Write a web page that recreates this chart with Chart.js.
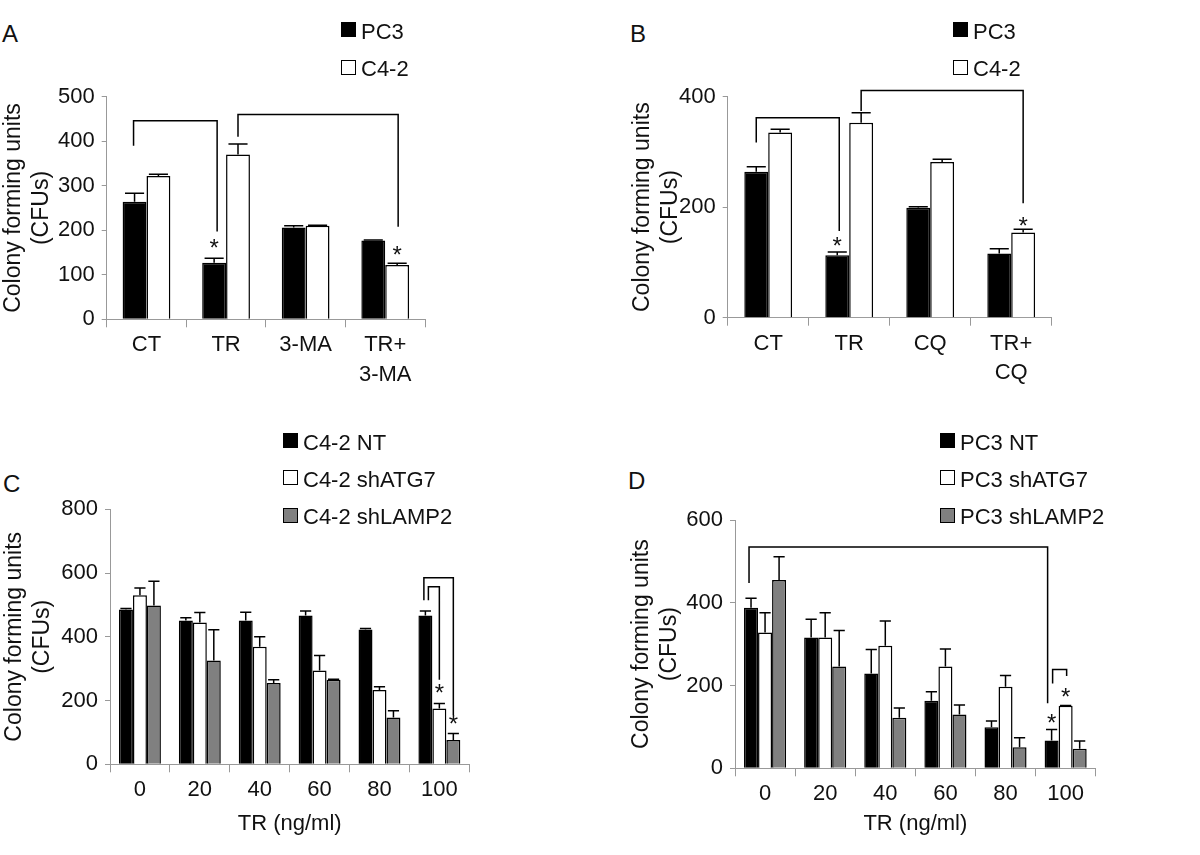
<!DOCTYPE html>
<html>
<head>
<meta charset="utf-8">
<script src="https://cdn.jsdelivr.net/npm/chart.js@4.4.1/dist/chart.umd.min.js"></script>
<style>
  body { margin:0; background:#fff; width:1200px; height:855px; position:relative; overflow:hidden; font-family:'Liberation Sans', Arial, sans-serif; color:#111; }
  canvas { position:absolute; }
  .tag { position:absolute; font-size:24px; line-height:1; }
  .box { position:absolute; width:15px; height:15px; box-sizing:border-box; border:1.5px solid #000; }
  .lab { position:absolute; font-size:22px; line-height:1; white-space:nowrap; }
</style>
</head>
<body>
<div class="tag" style="left:2px;top:22px">A</div>
<div class="tag" style="left:630px;top:22px">B</div>
<div class="tag" style="left:3px;top:472px">C</div>
<div class="tag" style="left:628px;top:469px">D</div>
<canvas id="cA"></canvas>
<canvas id="cB"></canvas>
<canvas id="cC"></canvas>
<canvas id="cD"></canvas>
<script>
const FONT = "'Liberation Sans', Arial, sans-serif";
const INK  = '#111';
const AXIS = '#999';

// panel A
const catsA   = ['CT', 'TR', '3-MA', ['TR+', '3-MA']];
const pc3A    = [264, 127, 206, 177];
const pc3AErr = [19, 10, 4, 1];
const c42A    = [322, 370, 210, 122];
const c42AErr = [4, 24, 1, 4];

// panel B
const catsB   = ['CT', 'TR', 'CQ', ['TR+', 'CQ']];
const pc3B    = [264, 113, 199, 116];
const pc3BErr = [9, 6, 2, 9];
const c42B    = [335, 353, 282, 154];
const c42BErr = [6, 18, 5, 6];

// panels C and D
const doses    = ['0', '20', '40', '60', '80', '100'];
const ntC      = [486, 451, 451, 467, 423, 467];
const ntCErr   = [3, 9, 26, 14, 3, 14];
const atg7C    = [530, 445, 369, 294, 233, 175];
const atg7CErr = [23, 31, 31, 47, 10, 16];
const lampC    = [498, 326, 255, 265, 147, 76];
const lampCErr = [76, 96, 10, 2, 21, 21];

const ntD      = [388, 316, 229, 163, 99, 67];
const ntDErr   = [23, 44, 58, 22, 15, 27];
const atg7D    = [328, 316, 296, 246, 197, 151];
const atg7DErr = [48, 60, 60, 42, 27, 1];
const lampD    = [455, 246, 122, 130, 51, 47];
const lampDErr = [56, 87, 24, 23, 23, 19];

const BLACK = '#000', WHITE = '#fff', GREY = '#808080';

function bar(label, data, err, fill) {
  return { label, data, err, backgroundColor: fill, borderColor: '#000', borderWidth: 1.5, barPercentage: 1 };
}

// error bars, brackets and stars
const marks = {
  id: 'marks',
  afterDatasetsDraw(chart, args, o) {
    const ctx = chart.ctx, y = chart.scales.y;
    const px = (d, i, dx) => chart.getDatasetMeta(d).data[i].x + (dx || 0);
    ctx.save();
    ctx.strokeStyle = '#000';
    ctx.lineWidth = 1.5;
    chart.data.datasets.forEach((ds, d) => {
      chart.getDatasetMeta(d).data.forEach((b, i) => {
        const e = ds.err[i];
        if (!e) return;
        const top = y.getPixelForValue(ds.data[i] + e), w = b.width * 0.4;
        ctx.beginPath();
        ctx.moveTo(b.x, b.y); ctx.lineTo(b.x, top);
        ctx.moveTo(b.x - w, top); ctx.lineTo(b.x + w, top);
        ctx.stroke();
      });
    });
    (o.brackets || []).forEach(k => {
      const xa = px(k.a[0], k.a[1], k.a[2]), xb = px(k.b[0], k.b[1], k.b[2]);
      const yt = y.getPixelForValue(k.top);
      ctx.beginPath();
      ctx.moveTo(xa, y.getPixelForValue(k.ya));
      ctx.lineTo(xa, yt); ctx.lineTo(xb, yt);
      ctx.lineTo(xb, y.getPixelForValue(k.yb));
      ctx.stroke();
    });
    ctx.fillStyle = INK;
    ctx.font = `24px ${FONT}`;
    ctx.textAlign = 'center';
    ctx.textBaseline = 'alphabetic';
    (o.stars || []).forEach(s => {
      ctx.fillText('*', px(s[0], s[1]), y.getPixelForValue(s[2]) + 24 * 0.57);
    });
    ctx.restore();
  }
};

function makePanel(id, g, a, labels, datasets, catPct, yMax, yStep, opt) {
  const cv = document.getElementById(id);
  cv.width = g.w; cv.height = g.h;
  cv.style.left = g.x + 'px'; cv.style.top = g.y + 'px';

  // legend entries, placed relative to the panel
  datasets.forEach((ds, k) => {
    ds.categoryPercentage = catPct;
    const lx = g.x + opt.legend.x, ly = g.y + opt.legend.y + k * opt.legend.dy;
    const box = document.createElement('div');
    box.className = 'box';
    box.style.cssText = `left:${lx}px;top:${ly}px;background:${ds.backgroundColor}`;
    const lab = document.createElement('div');
    lab.className = 'lab';
    lab.style.cssText = `left:${lx + 20}px;top:${ly - 1.5}px`;
    lab.textContent = ds.label;
    document.body.appendChild(box);
    document.body.appendChild(lab);
  });

  new Chart(cv, {
    type: 'bar',
    data: { labels, datasets },
    options: {
      responsive: false, animation: false,
      layout: { padding: { left: 0, top: a.t, right: g.w - a.r, bottom: 0 } },
      plugins: {
        legend: { display: false }, tooltip: { enabled: false },
        marks: { brackets: opt.brackets, stars: opt.stars }
      },
      scales: {
        x: {
          grid: { offset: true, drawOnChartArea: false, drawTicks: true, tickLength: 8, color: AXIS },
          border: { display: true, color: AXIS },
          ticks: { color: INK, font: { family: FONT, size: 22, lineHeight: 1.35 }, padding: 3, maxRotation: 0, autoSkip: false },
          title: opt.xTitle
            ? { display: true, text: opt.xTitle, color: INK, font: { family: FONT, size: 22 }, padding: { top: 0, bottom: 18 } }
            : { display: false },
          afterFit: s => { s.height = g.h - a.b; }
        },
        y: {
          min: 0, max: yMax,
          grid: { drawOnChartArea: false, drawTicks: true, tickLength: 5, color: AXIS },
          border: { display: true, color: AXIS },
          ticks: { stepSize: yStep, color: INK, font: { family: FONT, size: 22 }, padding: 7 },
          title: {
            display: true, text: ['Colony forming units', '(CFUs)'], color: INK,
            font: { family: FONT, size: 23, lineHeight: 1.2 }, padding: { top: opt.titlePad, bottom: 0 }
          },
          afterFit: s => { s.width = a.l; }
        }
      }
    },
    plugins: [marks]
  });
}

makePanel('cA', { x: 0, y: 0, w: 600, h: 420 }, { l: 106.7, r: 425, t: 96.7, b: 319.3 },
  catsA, [bar('PC3', pc3A, pc3AErr, BLACK), bar('C4-2', c42A, c42AErr, WHITE)], 0.6, 500, 100, {
    titlePad: 0,
    legend: { x: 341, y: 22, dy: 37.7 },
    brackets: [
      { a: [0, 0, -1], b: [0, 1, 3], ya: 390, top: 446, yb: 197 },
      { a: [1, 1, 0], b: [1, 3, 1], ya: 410, top: 460, yb: 208 }
    ],
    stars: [[0, 1, 172], [1, 3, 157]]
  });

makePanel('cB', { x: 600, y: 0, w: 600, h: 420 }, { l: 127.7, r: 451.7, t: 96.7, b: 317.7 },
  catsB, [bar('PC3', pc3B, pc3BErr, BLACK), bar('C4-2', c42B, c42BErr, WHITE)], 0.59, 400, 200, {
    titlePad: 29,
    legend: { x: 353, y: 22, dy: 37.7 },
    brackets: [
      { a: [0, 0, 0], b: [0, 1, 2], ya: 317, top: 362, yb: 157 },
      { a: [1, 1, 0], b: [1, 3, 0], ya: 374, top: 411, yb: 207 }
    ],
    stars: [[0, 1, 140], [1, 3, 177]]
  });

makePanel('cC', { x: 0, y: 420, w: 600, h: 435 }, { l: 110, r: 469.3, t: 89.3, b: 344.3 },
  doses, [bar('C4-2 NT', ntC, ntCErr, BLACK), bar('C4-2 shATG7', atg7C, atg7CErr, WHITE), bar('C4-2 shLAMP2', lampC, lampCErr, GREY)], 0.7, 800, 200, {
    titlePad: 1, xTitle: 'TR (ng/ml)',
    legend: { x: 283, y: 13, dy: 37.3 },
    brackets: [
      { a: [0, 5, -1.5], b: [2, 5, 0], ya: 515, top: 585, yb: 155 },
      { a: [0, 5, 3], b: [1, 5, 0], ya: 515, top: 557, yb: 265 }
    ],
    stars: [[1, 5, 243], [2, 5, 144]]
  });

makePanel('cD', { x: 600, y: 420, w: 600, h: 435 }, { l: 135, r: 495.7, t: 100, b: 348.3 },
  doses, [bar('PC3 NT', ntD, ntDErr, BLACK), bar('PC3 shATG7', atg7D, atg7DErr, WHITE), bar('PC3 shLAMP2', lampD, lampDErr, GREY)], 0.7, 600, 200, {
    titlePad: 28, xTitle: 'TR (ng/ml)',
    legend: { x: 340, y: 13, dy: 37.3 },
    brackets: [
      { a: [0, 0, -2], b: [0, 5, -4], ya: 448, top: 535, yb: 157 },
      { a: [0, 5, 1], b: [1, 5, 1], ya: 205, top: 239, yb: 223 }
    ],
    stars: [[0, 5, 122], [1, 5, 185]]
  });
</script>
</body>
</html>
